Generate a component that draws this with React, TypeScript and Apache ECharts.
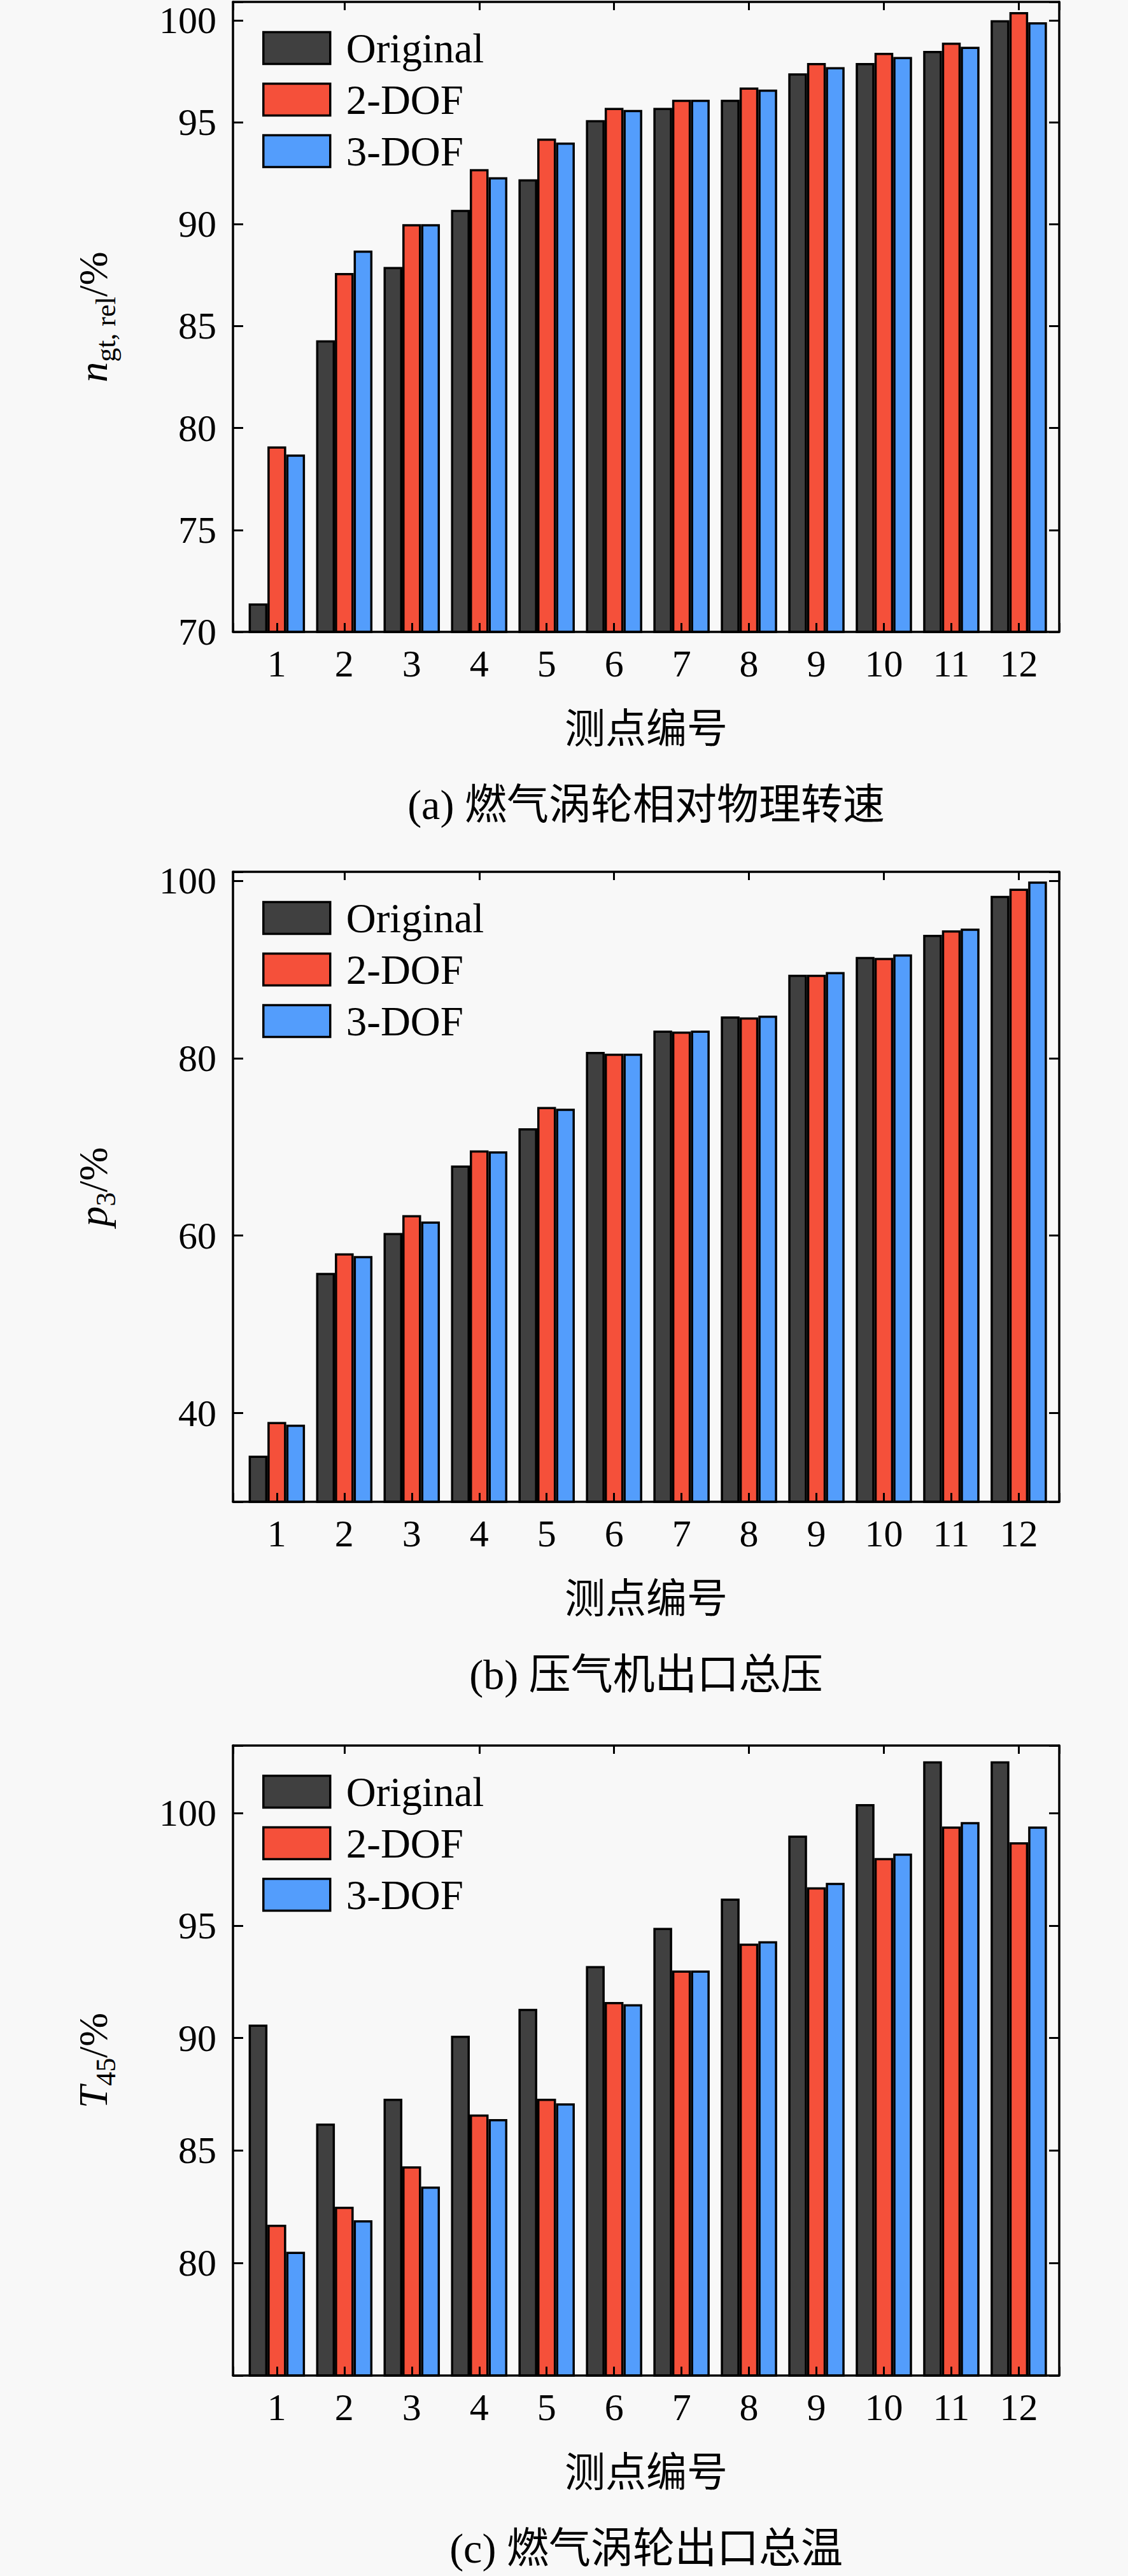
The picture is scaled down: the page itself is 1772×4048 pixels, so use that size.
import React, { useEffect, useRef } from "react";
import * as echarts from "echarts";

// 测点编号
const points = [1, 2, 3, 4, 5, 6, 7, 8, 9, 10, 11, 12];
const seriesNames = ["Original", "2-DOF", "3-DOF"];
const seriesColors = ["#404040", "#f5503a", "#539dfc"];

// (a) 燃气涡轮相对物理转速
const speedOriginal = [71.4, 84.3, 87.9, 90.7, 92.2, 95.1, 95.7, 96.1, 97.4, 97.9, 98.5, 100.0];
const speed2Dof = [79.1, 87.6, 90.0, 92.7, 94.2, 95.7, 96.1, 96.7, 97.9, 98.4, 98.9, 100.4];
const speed3Dof = [78.7, 88.7, 90.0, 92.3, 94.0, 95.6, 96.1, 96.6, 97.7, 98.2, 98.7, 99.9];
const speedTicks = [70, 75, 80, 85, 90, 95, 100];

// (b) 压气机出口总压
const pressureOriginal = [35.2, 55.8, 60.3, 67.9, 72.1, 80.7, 83.1, 84.7, 89.4, 91.4, 93.9, 98.3];
const pressure2Dof = [39.0, 58.0, 62.3, 69.6, 74.5, 80.5, 83.0, 84.6, 89.4, 91.3, 94.4, 99.1];
const pressure3Dof = [38.7, 57.7, 61.6, 69.5, 74.3, 80.5, 83.1, 84.8, 89.7, 91.7, 94.6, 99.9];
const pressureTicks = [40, 60, 80, 100];

// (c) 燃气涡轮出口总温
const tempOriginal = [90.6, 86.2, 87.3, 90.1, 91.3, 93.2, 94.9, 96.2, 99.0, 100.4, 102.3, 102.3];
const temp2Dof = [81.7, 82.5, 84.3, 86.6, 87.3, 91.6, 93.0, 94.2, 96.7, 98.0, 99.4, 98.7];
const temp3Dof = [80.5, 81.9, 83.4, 86.4, 87.1, 91.5, 93.0, 94.3, 96.9, 98.2, 99.6, 99.4];
const tempTicks = [80, 85, 90, 95, 100];

const FONT = "'Times New Roman', 'Liberation Serif', 'Noto Sans CJK SC', serif";

type Panel = {
  top: number;
  min: number;
  max: number;
  step: number;
  ticks: number[];
  values: number[][];
  name: string;
  rich: Record<string, any>;
  caption: string;
};

const mainText = { fontSize: 64, fontFamily: FONT, color: "#000", lineHeight: 84, verticalAlign: "middle" };
const subText = { fontSize: 44, fontFamily: FONT, color: "#000", lineHeight: 44, verticalAlign: "bottom" };

const panels: Panel[] = [
  {
    top: 3,
    min: 70,
    max: 100.9,
    step: 5,
    ticks: speedTicks,
    values: [speedOriginal, speed2Dof, speed3Dof],
    name: "{i|n}{s|gt, rel}{r|/%}",
    rich: { i: { ...mainText, fontStyle: "italic" }, s: subText, r: mainText },
    caption: "(a) 燃气涡轮相对物理转速",
  },
  {
    top: 1370,
    min: 30,
    max: 101,
    step: 20,
    ticks: pressureTicks,
    values: [pressureOriginal, pressure2Dof, pressure3Dof],
    name: "{i|p}{s|3}{r|/%}",
    rich: { i: { ...mainText, fontStyle: "italic" }, s: subText, r: mainText },
    caption: "(b) 压气机出口总压",
  },
  {
    top: 2743,
    min: 75,
    max: 103,
    step: 5,
    ticks: tempTicks,
    values: [tempOriginal, temp2Dof, temp3Dof],
    name: "{i|T}{s|45}{r|/%}",
    rich: { i: { ...mainText, fontStyle: "italic" }, s: subText, r: mainText },
    caption: "(c) 燃气涡轮出口总温",
  },
];

const GRID_LEFT = 366;
const GRID_WIDTH = 1298;
const GRID_HEIGHT = 990;
const X_MIN = 0.35;
const X_MAX = 12.6;

const App: React.FC = () => {
  const chartRef = useRef<HTMLDivElement>(null);

  useEffect(() => {
    const chart = echarts.init(chartRef.current as HTMLDivElement, undefined, { renderer: "svg" });

    const axisLine = { show: true, onZero: false, lineStyle: { color: "#000", width: 3.5 } };
    const tickStyle = { color: "#000", width: 3 };

    const grid: any[] = [];
    const xAxis: any[] = [];
    const yAxis: any[] = [];
    const series: any[] = [];
    const legend: any[] = [];
    const graphic: any[] = [];

    panels.forEach((p, g) => {
      grid.push({ left: GRID_LEFT, top: p.top, width: GRID_WIDTH, height: GRID_HEIGHT });

      xAxis.push({
        type: "value",
        gridIndex: g,
        position: "bottom",
        min: X_MIN,
        max: X_MAX,
        minInterval: 1,
        maxInterval: 1,
        z: 5,
        axisLine,
        axisTick: { inside: true, length: 14, lineStyle: tickStyle },
        splitLine: { show: false },
        axisLabel: {
          margin: 20,
          fontSize: 60,
          fontFamily: FONT,
          color: "#000",
          formatter: (v: number) => (points.includes(v) ? String(v) : ""),
        },
        name: "测点编号",
        nameLocation: "middle",
        nameGap: 120,
        nameTextStyle: { fontSize: 64, fontFamily: FONT, color: "#000" },
      });
      xAxis.push({
        type: "value",
        gridIndex: g,
        position: "top",
        min: X_MIN,
        max: X_MAX,
        minInterval: 2,
        maxInterval: 2,
        z: 5,
        axisLine,
        axisTick: { inside: true, length: 13, lineStyle: tickStyle },
        splitLine: { show: false },
        axisLabel: { show: false },
      });

      yAxis.push({
        type: "value",
        gridIndex: g,
        position: "left",
        min: p.min,
        max: p.max,
        minInterval: p.step,
        maxInterval: p.step,
        z: 5,
        axisLine,
        axisTick: { inside: true, length: 16, lineStyle: tickStyle },
        splitLine: { show: false },
        axisLabel: {
          margin: 26,
          fontSize: 60,
          fontFamily: FONT,
          color: "#000",
          formatter: (v: number) => (p.ticks.includes(v) ? String(v) : ""),
        },
        name: p.name,
        nameLocation: "middle",
        nameRotate: 90,
        nameGap: 178,
        nameTextStyle: { fontFamily: FONT, color: "#000", rich: p.rich },
      });
      yAxis.push({
        type: "value",
        gridIndex: g,
        position: "right",
        min: p.min,
        max: p.max,
        minInterval: p.step,
        maxInterval: p.step,
        z: 5,
        axisLine,
        axisTick: { inside: true, length: 16, lineStyle: tickStyle },
        splitLine: { show: false },
        axisLabel: { show: false },
      });

      p.values.forEach((vals, s) => {
        series.push({
          name: seriesNames[s],
          type: "bar",
          xAxisIndex: g * 2,
          yAxisIndex: g * 2,
          barWidth: 29.5,
          barGap: "0%",
          itemStyle: { color: seriesColors[s], borderColor: "#000", borderWidth: 3.5 },
          data: vals.map((v, i) => [points[i], v]),
        });
      });

      legend.push({
        orient: "vertical",
        left: 412,
        top: p.top + 40,
        padding: 0,
        itemWidth: 105,
        itemHeight: 50,
        itemGap: 16,
        icon: "rect",
        data: seriesNames,
        selectedMode: false,
        itemStyle: { borderColor: "#000", borderWidth: 3.5 },
        textStyle: {
          fontSize: 65,
          lineHeight: 50,
          fontFamily: FONT,
          color: "#000",
          padding: [0, 0, 0, 20],
        },
      });

      graphic.push({
        type: "text",
        x: GRID_LEFT + GRID_WIDTH / 2,
        y: p.top + GRID_HEIGHT + 271,
        style: {
          text: p.caption,
          fontSize: 66,
          fontFamily: FONT,
          fill: "#000",
          align: "center",
          verticalAlign: "middle",
        },
      });
    });

    chart.setOption({
      animation: false,
      backgroundColor: "#f8f8f8",
      grid,
      xAxis,
      yAxis,
      series,
      legend,
      graphic,
    });

    return () => {
      chart.dispose();
    };
  }, []);

  return (
    <div
      ref={chartRef}
      style={{ position: "absolute", left: 0, top: 0, width: "1772px", height: "4048px" }}
    />
  );
};

export default App;
